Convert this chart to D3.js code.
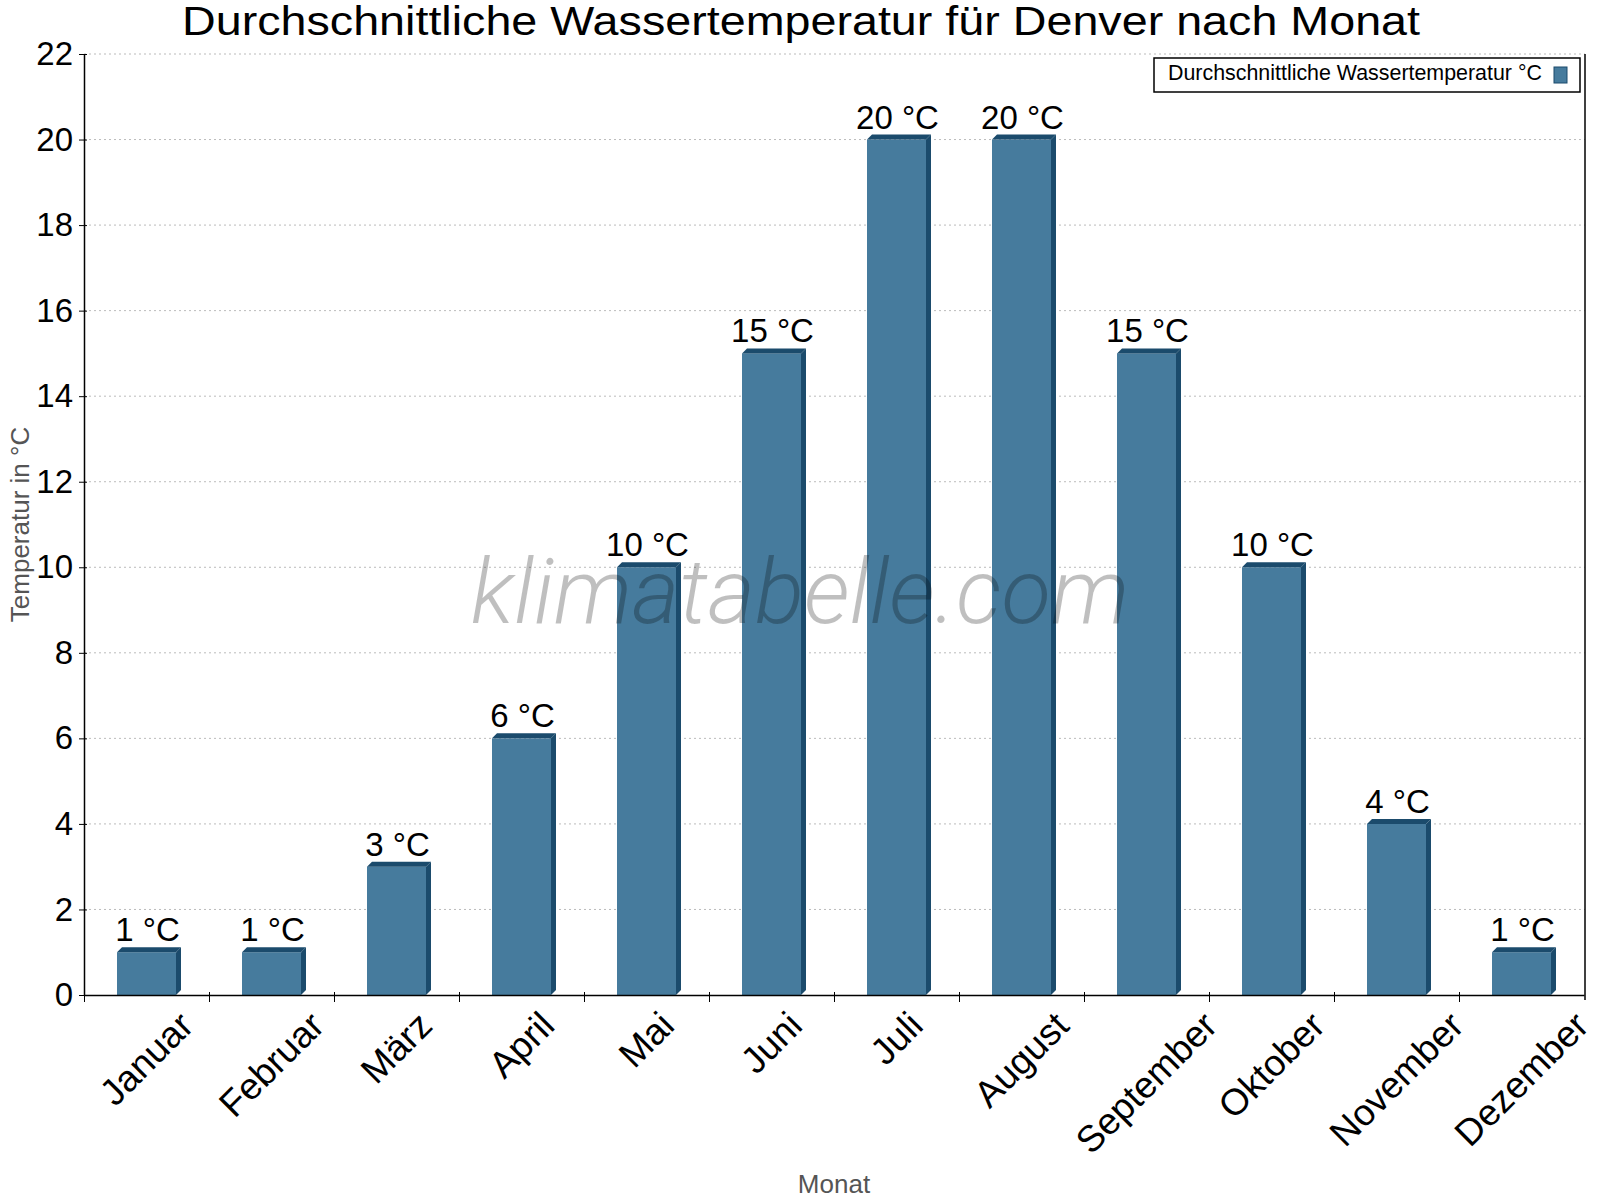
<!DOCTYPE html>
<html>
<head>
<meta charset="utf-8">
<script src="https://cdn.jsdelivr.net/npm/d3@7"></script>
<style>
  body { margin: 0; background: #fff; }
  svg { display: block; font-family: "Liberation Sans", Arial, sans-serif; }
</style>
</head>
<body>
<svg width="1600" height="1200"></svg>
<script>
// Daten
var months = ["Januar", "Februar", "März", "April", "Mai", "Juni", "Juli", "August", "September", "Oktober", "November", "Dezember"];
var waterTemp = [1, 1, 3, 6, 10, 15, 20, 20, 15, 10, 4, 1];
var yTicks = [0, 2, 4, 6, 8, 10, 12, 14, 16, 18, 20, 22];
var unit = "°C";

var plotLeft = 84, plotRight = 1584, plotTop = 54, plotBottom = 995;
var depth = 5;
var front = "#467b9d", dark = "#1b4b6c";

var svg = d3.select("svg");

var x = d3.scaleBand().domain(months).range([plotLeft, plotRight]);
var xIdx = d3.scaleLinear().domain([0, months.length]).range([plotLeft, plotRight]);
var y = d3.scaleLinear().domain([0, 22]).range([plotBottom, plotTop]);
var bw = x.bandwidth();

// gitterlinien
svg.append("g").selectAll("line")
    .data(yTicks.filter(function (d) { return d > 0; }))
    .enter().append("line")
    .attr("x1", plotLeft).attr("x2", plotRight + 1)
    .attr("y1", function (d) { return y(d); })
    .attr("y2", function (d) { return y(d); })
    .attr("stroke", "#bbb")
    .attr("stroke-dasharray", "2,3");

// balken (3D)
var bars = svg.append("g").selectAll("g")
    .data(waterTemp)
    .enter().append("g");

function bx(i) { return x(months[i]) + bw * 0.264; }
var fw = bw * 0.472;

bars.append("rect")
    .attr("x", function (d, i) { return bx(i); })
    .attr("y", function (d) { return y(d); })
    .attr("width", fw)
    .attr("height", function (d) { return plotBottom - y(d); })
    .attr("fill", front);

bars.append("path")
    .attr("fill", dark)
    .attr("d", function (d, i) {
        var x0 = bx(i), yt = y(d);
        return "M" + x0 + "," + yt + "L" + (x0 + depth) + "," + (yt - depth) +
            "L" + (x0 + fw + depth) + "," + (yt - depth) + "L" + (x0 + fw) + "," + yt + "Z";
    });

bars.append("path")
    .attr("fill", dark)
    .attr("d", function (d, i) {
        var x1 = bx(i) + fw, yt = y(d);
        return "M" + x1 + "," + yt + "L" + (x1 + depth) + "," + (yt - depth) +
            "L" + (x1 + depth) + "," + (plotBottom - depth) + "L" + x1 + "," + plotBottom + "Z";
    });

bars.append("text")
    .attr("x", function (d, i) { return bx(i) + fw / 2 + 1; })
    .attr("y", function (d) { return y(d) - 11; })
    .attr("text-anchor", "middle")
    .attr("font-size", 33)
    .attr("fill", "#000")
    .text(function (d) { return d + " " + unit; });

// achsen
var yAxis = svg.append("g")
    .attr("transform", "translate(" + plotLeft + ",0)")
    .call(d3.axisLeft(y).tickValues(yTicks).tickSizeInner(5).tickSizeOuter(0).tickPadding(6));
yAxis.select(".domain").attr("stroke", "#000").attr("stroke-width", 1.5);
yAxis.selectAll(".tick line").attr("x1", 3).attr("stroke", "#000");
yAxis.selectAll(".tick text").attr("font-size", 33).attr("font-family", "Liberation Sans, Arial, sans-serif").attr("fill", "#000");

var xAxis = svg.append("g")
    .attr("transform", "translate(0," + plotBottom + ")")
    .call(d3.axisBottom(xIdx).tickValues(d3.range(months.length)).tickSizeInner(7).tickSizeOuter(0).tickFormat(""));
xAxis.select(".domain").attr("stroke", "#000").attr("stroke-width", 1.5);
xAxis.selectAll(".tick line").attr("y1", -3).attr("stroke", "#000");

svg.append("line")
    .attr("x1", plotRight + 1).attr("x2", plotRight + 1)
    .attr("y1", plotTop).attr("y2", plotBottom + 5)
    .attr("stroke", "#000").attr("stroke-width", 1.5);

// monatsnamen, gedreht
var lab = svg.append("g").selectAll("text")
    .data(months)
    .enter().append("text")
    .attr("text-anchor", "middle")
    .attr("dominant-baseline", "central")
    .attr("font-size", 37)
    .attr("fill", "#000")
    .text(function (d) { return d; });

lab.each(function (d) {
    var bb = this.getBBox();
    var h = (bb.width + bb.height * 0.75) * Math.SQRT1_2;
    var cx = x(d) + bw / 2, cy = 1008 + h / 2;
    d3.select(this).attr("x", 0).attr("y", 0)
        .attr("transform", "translate(" + cx + "," + cy + ") rotate(-45)");
});

// achsentitel
svg.append("text")
    .attr("transform", "translate(29," + ((plotTop + plotBottom) / 2) + ") rotate(-90)")
    .attr("text-anchor", "middle")
    .attr("font-size", 26)
    .attr("fill", "#555")
    .text("Temperatur in °C");

svg.append("text")
    .attr("x", (plotLeft + plotRight) / 2).attr("y", 1193)
    .attr("text-anchor", "middle")
    .attr("font-size", 26)
    .attr("fill", "#555")
    .text("Monat");

// titel
svg.append("text")
    .attr("x", 801).attr("y", 35)
    .attr("text-anchor", "middle")
    .attr("font-size", 41)
    .attr("textLength", 1238)
    .attr("lengthAdjust", "spacingAndGlyphs")
    .attr("fill", "#000")
    .text("Durchschnittliche Wassertemperatur für Denver nach Monat");

// legende
var leg = svg.append("g");
leg.append("rect")
    .attr("x", 1154).attr("y", 58).attr("width", 426).attr("height", 34)
    .attr("fill", "#fff").attr("stroke", "#000").attr("stroke-width", 1.5);
leg.append("text")
    .attr("x", 1168).attr("y", 80)
    .attr("font-size", 21.4)
    .attr("fill", "#000")
    .text("Durchschnittliche Wassertemperatur " + unit);
leg.append("rect")
    .attr("x", 1554).attr("y", 67).attr("width", 13).attr("height", 16)
    .attr("fill", front).attr("stroke", dark);

// wasserzeichen
svg.append("text")
    .attr("x", 800).attr("y", 623)
    .attr("text-anchor", "middle")
    .attr("font-family", "Roboto, sans-serif")
    .attr("font-style", "italic")
    .attr("font-weight", 300)
    .attr("font-size", 91)
    .attr("fill", "#000")
    .attr("fill-opacity", 0.25)
    .text("klimatabelle.com");
</script>
</body>
</html>
